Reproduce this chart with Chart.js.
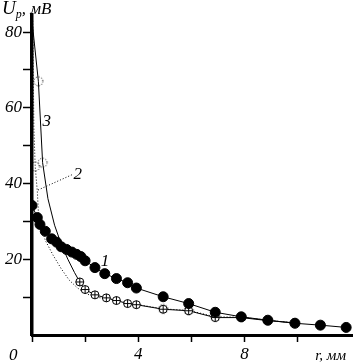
<!DOCTYPE html>
<html><head><meta charset="utf-8">
<script src="https://cdn.jsdelivr.net/npm/chart.js@4/dist/chart.umd.min.js"></script>
<style>html,body{margin:0;padding:0;background:#fff}canvas{display:block}</style>
</head><body>
<canvas id="c" width="359" height="363"></canvas>
<script>
// Curve 1: filled circles
const r1 = [0, 0.2, 0.3, 0.5, 0.74, 0.93, 1.1, 1.3, 1.5, 1.68, 1.84, 2.0, 2.37, 2.74, 3.18, 3.6, 3.93, 4.94, 5.9, 6.9, 7.88, 8.88, 9.9, 10.86, 11.83];
const u1 = [34.2, 31, 29.2, 27.4, 25.4, 24.5, 23.3, 22.6, 21.9, 21.3, 20.7, 19.6, 17.8, 16.2, 14.9, 13.8, 12.4, 10.1, 8.3, 6.0, 4.8, 3.9, 3.1, 2.6, 2.0];
// Curve 2: dotted line, dotted circles
const r2 = [0.03, 0.07, 0.12, 0.2, 0.25, 0.5, 0.8, 1.1, 1.4, 1.7, 2.0, 2.4, 2.8, 3.18, 3.6, 3.93, 4.94, 5.9, 6.9, 7.88, 8.88, 9.9];
const u2 = [83, 55, 44.5, 38, 31, 25, 21, 17.5, 14.5, 12.5, 11, 10, 9.6, 9.2, 8.4, 8.1, 6.9, 6.5, 4.8, 4.7, 3.9, 3.2];
// Curve 3: solid line, crossed circles
const r3 = [0, 0.24, 0.4, 0.6, 0.85, 1.1, 1.35, 1.6, 1.8, 2.0, 2.37, 2.8, 3.18, 3.6, 3.93, 4.94, 5.9, 6.9, 7.88, 8.88, 9.9];
const u3 = [83, 67, 45.5, 36, 29, 24, 20, 16.5, 14, 12, 10.6, 9.8, 9.1, 8.3, 8.0, 6.8, 6.4, 4.6, 4.6, 3.8, 3.2];
// Axis labels
const xTickLabels = [4, 8];
const yTickLabels = [20, 40, 60, 80];
const xTitle = 'r, мм';
const yTitleMain = 'U';
const yTitleSub = 'p';
const yTitleRest = ', мВ';
const curveLabels = [
  {text: '1', x: 2.75, y: 19.8},
  {text: '2', x: 1.72, y: 42.8},
  {text: '3', x: 0.56, y: 56.8}
];
const leader = {x1: 1.5, y1: 42.3, x2: 0.2, y2: 38.2};

const FONT = "'Liberation Serif', 'DejaVu Serif', serif";

function dottedCircle(r) {
  const s = 2 * r + 4, c = document.createElement('canvas');
  c.width = c.height = s;
  const g = c.getContext('2d'), m = s / 2;
  g.strokeStyle = '#000'; g.lineWidth = 1; g.setLineDash([1, 1.6]);
  g.beginPath(); g.arc(m, m, r, 0, Math.PI * 2); g.stroke();
  return c;
}
const DOT = dottedCircle(4.5);

const pts = (xs, ys) => xs.map((x, i) => ({x, y: ys[i]}));
// which points show markers (style only)
const c3Marker = ctx => { const x = r3[ctx.dataIndex]; return (x >= 1.8) ? 4 : 0; };
const c3Ring = ctx => { const x = r3[ctx.dataIndex]; return (x > 0.1 && x < 0.5) ? 4.5 : 0; };
const c2Ring = ctx => { const x = r2[ctx.dataIndex]; return (x === 0.12 || x >= 4.9) ? 5 : 0; };

const textPlugin = {
  id: 'texts',
  afterDraw(chart) {
    const ctx = chart.ctx, xs = chart.scales.x, ys = chart.scales.y;
    ctx.save();
    ctx.fillStyle = '#000';
    ctx.textBaseline = 'alphabetic';
    ctx.font = 'italic 17px ' + FONT;
    ctx.textAlign = 'center';
    curveLabels.forEach(l => ctx.fillText(l.text, xs.getPixelForValue(l.x), ys.getPixelForValue(l.y) + 6));
    ctx.strokeStyle = '#000'; ctx.lineWidth = 1; ctx.setLineDash([1, 2]);
    ctx.beginPath();
    ctx.moveTo(xs.getPixelForValue(leader.x1), ys.getPixelForValue(leader.y1));
    ctx.lineTo(xs.getPixelForValue(leader.x2), ys.getPixelForValue(leader.y2));
    ctx.stroke();
    ctx.setLineDash([]);
    ctx.textAlign = 'left';
    ctx.font = 'italic 19px ' + FONT;
    ctx.fillText(yTitleMain, 2, 14);
    let w = ctx.measureText(yTitleMain).width;
    ctx.font = 'italic 12px ' + FONT;
    ctx.fillText(yTitleSub, 2 + w, 18);
    let w2 = ctx.measureText(yTitleSub).width;
    ctx.font = 'italic 17px ' + FONT;
    ctx.fillText(yTitleRest, 2 + w + w2, 14);
    ctx.font = 'italic 15px ' + FONT;
    ctx.textAlign = 'right';
    ctx.fillText(xTitle, 346, 360);
    ctx.font = 'italic 17px ' + FONT;
    ctx.textAlign = 'left';
    ctx.fillText('0', 9, 360);
    ctx.restore();
  }
};

new Chart(document.getElementById('c'), {
  type: 'scatter',
  data: {
    datasets: [
      {data: pts(r1, u1), showLine: true, borderColor: '#000', borderWidth: 1,
       pointStyle: 'circle', pointRadius: 5, pointBackgroundColor: '#000', pointBorderColor: '#000', order: 1},
      // curve 3: cross overlay
      {data: pts(r3, u3), showLine: false, pointStyle: 'cross', pointRadius: c3Marker,
       pointBorderColor: '#000', pointBorderWidth: 1, order: 2},
      // curve 3: line + circles
      {data: pts(r3, u3), showLine: true, borderColor: '#000', borderWidth: 1,
       pointStyle: 'circle', pointRadius: c3Marker, pointBackgroundColor: '#fff', pointBorderColor: '#000', pointBorderWidth: 1, order: 3},
      // curve 3: dotted rings near the top
      {data: pts(r3, u3), showLine: false, pointStyle: DOT, pointRadius: c3Ring, order: 4},
      // curve 2
      {data: pts(r2, u2), showLine: true, borderColor: '#000', borderWidth: 1, borderDash: [1, 2],
       pointStyle: DOT, pointRadius: c2Ring, order: 5}
    ]
  },
  options: {
    responsive: false, animation: false, devicePixelRatio: 1,
    layout: {padding: {top: 15, right: 7, left: 0, bottom: 0}},
    plugins: {legend: {display: false}, tooltip: {enabled: false}},
    scales: {
      x: {
        type: 'linear', min: 0, max: 12.05,
        afterBuildTicks: s => { s.ticks = [0, 2, 4, 6, 8, 10].map(v => ({value: v})); },
        afterFit: s => { s.height = 28; },
        ticks: {autoSkip: false, maxRotation: 0, padding: 2, color: '#000',
          font: {family: FONT, size: 17, style: 'italic'},
          callback: v => xTickLabels.includes(v) ? String(v) : ''},
        grid: {drawOnChartArea: false, drawTicks: true, tickLength: 7, color: '#000', tickWidth: 1.5},
        border: {color: '#000', width: 3}
      },
      y: {
        type: 'linear', min: 0, max: 84.5,
        afterBuildTicks: s => { s.ticks = [10, 20, 30, 40, 50, 60, 70, 80].map(v => ({value: v})); },
        afterFit: s => { s.width = 32; },
        ticks: {autoSkip: false, padding: 1, color: '#000',
          font: {family: FONT, size: 17, style: 'italic'},
          callback: v => yTickLabels.includes(v) ? String(v) : ''},
        grid: {drawOnChartArea: false, drawTicks: true, tickLength: 9, color: '#000', tickWidth: 1.5},
        border: {color: '#000', width: 3.5}
      }
    }
  },
  plugins: [textPlugin]
});
</script>
</body></html>
